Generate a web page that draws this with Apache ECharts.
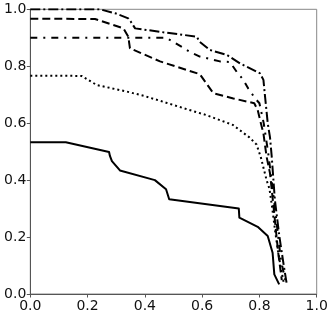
<!DOCTYPE html>
<html><head><meta charset="utf-8">
<script src="https://cdn.jsdelivr.net/npm/echarts@6/dist/echarts.min.js"></script>
<style>html,body{margin:0;padding:0;background:#fff}#c{width:332px;height:316px}</style>
</head><body><div id="c"></div>
<script>
const xTicks = [0, 0.2, 0.4, 0.6, 0.8, 1.0];
const yTicks = [0, 0.2, 0.4, 0.6, 0.8, 1.0];

const solidX = [0, 0.124, 0.275, 0.278, 0.285, 0.313, 0.435, 0.474, 0.485, 0.728, 0.730, 0.794, 0.829, 0.846, 0.852, 0.869];
const solidY = [0.533, 0.533, 0.499, 0.485, 0.467, 0.434, 0.400, 0.368, 0.333, 0.300, 0.268, 0.236, 0.204, 0.145, 0.069, 0.034];

const dottedX = [0, 0.179, 0.232, 0.337, 0.40, 0.474, 0.55, 0.613, 0.707, 0.765, 0.79, 0.805, 0.815, 0.825, 0.835, 0.845, 0.855, 0.865, 0.875, 0.885];
const dottedY = [0.767, 0.766, 0.734, 0.711, 0.695, 0.672, 0.648, 0.629, 0.594, 0.55, 0.525, 0.48, 0.44, 0.40, 0.37, 0.30, 0.22, 0.15, 0.09, 0.04];

const dashedX = [0, 0.226, 0.325, 0.342, 0.348, 0.453, 0.592, 0.639, 0.709, 0.782, 0.794, 0.805, 0.814, 0.825, 0.837, 0.85, 0.865, 0.878];
const dashedY = [0.967, 0.966, 0.933, 0.904, 0.863, 0.817, 0.772, 0.705, 0.687, 0.670, 0.646, 0.60, 0.564, 0.482, 0.424, 0.30, 0.15, 0.049];

const dashDotX = [0, 0.244, 0.30, 0.342, 0.350, 0.366, 0.474, 0.581, 0.592, 0.627, 0.686, 0.732, 0.802, 0.814, 0.819, 0.829, 0.837, 0.843, 0.854, 0.87, 0.885, 0.895];
const dashDotY = [1.0, 1.0, 0.985, 0.968, 0.958, 0.933, 0.918, 0.904, 0.885, 0.857, 0.84, 0.81, 0.775, 0.752, 0.70, 0.60, 0.55, 0.482, 0.33, 0.2, 0.1, 0.038];

const dashDotDotX = [0, 0.474, 0.499, 0.558, 0.592, 0.662, 0.697, 0.721, 0.744, 0.761, 0.785, 0.80, 0.815, 0.83, 0.845, 0.86, 0.875, 0.89];
const dashDotDotY = [0.9, 0.9, 0.886, 0.85, 0.834, 0.817, 0.815, 0.78, 0.752, 0.722, 0.687, 0.67, 0.60, 0.50, 0.38, 0.25, 0.12, 0.05];

function zip(xs, ys) { return xs.map((x, i) => [x, ys[i]]); }
function mk(xs, ys, dash) {
  return { type: 'line', data: zip(xs, ys), symbol: 'none', animation: false,
    lineStyle: { color: '#000', width: 2, type: dash, cap: 'butt', join: 'round' } };
}

const axisCommon = {
  type: 'value', min: 0, max: 1, interval: 0.2,
  axisLine: { show: true, lineStyle: { color: '#555', width: 1 } },
  axisTick: { show: true, length: 3.5, lineStyle: { color: '#555' } },
  splitLine: { show: false },
  axisLabel: { color: '#111', fontFamily: 'DejaVu Sans', fontSize: 14, formatter: v => v.toFixed(1) }
};

const chart = echarts.init(document.getElementById('c'), null, { renderer: 'canvas' });
chart.setOption({
  backgroundColor: '#fff',
  animation: false,
  grid: { left: 30.3, right: 15.3, top: 9.3, bottom: 22, show: true, borderColor: '#888', borderWidth: 1 },
  xAxis: Object.assign({}, axisCommon, { axisLabel: Object.assign({}, axisCommon.axisLabel, { margin: 5 }) }),
  yAxis: Object.assign({}, axisCommon, { axisLabel: Object.assign({}, axisCommon.axisLabel, { margin: 4 }) }),
  series: [
    mk(solidX, solidY, 'solid'),
    mk(dottedX, dottedY, [2, 3]),
    mk(dashedX, dashedY, [8, 4]),
    mk(dashDotX, dashDotY, [10, 3, 2, 3]),
    mk(dashDotDotX, dashDotDotY, [7, 6, 2, 6])
  ]
});
</script></body></html>
